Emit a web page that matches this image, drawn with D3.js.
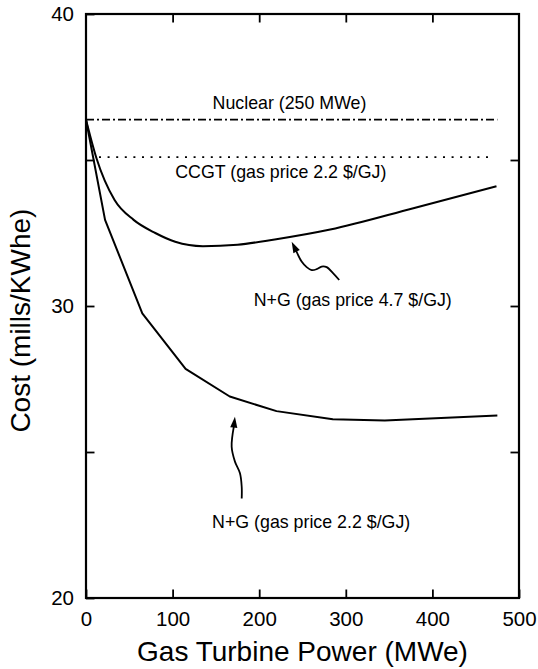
<!DOCTYPE html>
<html>
<head>
<meta charset="utf-8">
<script src="https://cdn.jsdelivr.net/npm/d3@7"></script>
<style>
  html, body { margin: 0; padding: 0; background: #fff; }
  svg { display: block; }
  text { font-family: "Liberation Sans", Arial, Helvetica, sans-serif; fill: #000; }
</style>
</head>
<body>
<svg id="chart" width="538" height="669"></svg>
<script>
// Gas turbine power (MWe) and levelised cost (mills/kWhe)
const powerLowGas = [0, 22, 65, 115, 166, 220, 285, 345, 475];
const costLowGas  = [36.38, 32.95, 29.75, 27.85, 26.9, 26.4, 26.12, 26.08, 26.25];

const powerHighGas = [0, 12, 33, 55, 80, 103, 135, 175, 218, 282, 378, 474];
const costHighGas  = [36.38, 35.07, 33.63, 32.95, 32.5, 32.2, 32.05, 32.1, 32.28, 32.62, 33.35, 34.1];

const nuclearCost = 36.38;
const nuclearPower = [0, 475];
const ccgtCost = 35.1;
const ccgtPower = [15, 470];

const xTickValues = [0, 100, 200, 300, 400, 500];
const yTickValues = [20, 25, 30, 35, 40];
const yLabelValues = [20, 30, 40];

// Annotation arrows (data units), drawn from tip to tail
const arrowHighGasPower = [237.5, 241.3, 249.0, 254.8, 260.6, 266.3, 272.1, 277.9, 285.5, 292.4];
const arrowHighGasCost  = [32.20, 31.98, 31.52, 31.33, 31.23, 31.26, 31.35, 31.33, 31.12, 30.89];
const arrowLowGasPower = [172.0, 169.4, 168.2, 172.0, 177.8, 179.8, 179.8];
const arrowLowGasCost  = [26.21, 25.64, 25.18, 24.67, 24.27, 23.81, 23.41];

const labels = [
  { text: "Nuclear (250 MWe)", power: 235, cost: 36.75 },
  { text: "CCGT (gas price 2.2 $/GJ)", power: 225, cost: 34.38 },
  { text: "N+G (gas price 4.7 $/GJ)", power: 308, cost: 30.0 },
  { text: "N+G (gas price 2.2 $/GJ)", power: 260, cost: 22.4 }
];

const W = 538, H = 669;
const margin = { top: 14, right: 19, bottom: 71, left: 86 };
const svg = d3.select("#chart");

const x = d3.scaleLinear().domain([0, 500]).range([margin.left, W - margin.right]);
const y = d3.scaleLinear().domain([20, 40]).range([H - margin.bottom, margin.top]);

const tickLen = 8.5;
const fmt = d => d;

function styleAxis(g) {
  g.select(".domain").remove();
  g.selectAll(".tick line").attr("stroke", "#000").attr("stroke-width", 1.8);
  g.selectAll(".tick text").attr("font-size", 20.5).attr("fill", "#000")
    .attr("font-family", '"Liberation Sans", Arial, sans-serif');
}

// Bottom axis with labels
svg.append("g")
  .attr("transform", `translate(0,${y(20)})`)
  .call(d3.axisBottom(x).tickValues(xTickValues).tickFormat(fmt).tickSize(-tickLen).tickPadding(13))
  .call(styleAxis);

// Top axis, ticks only
svg.append("g")
  .attr("transform", `translate(0,${y(40)})`)
  .call(d3.axisTop(x).tickValues(xTickValues.slice(1, -1)).tickFormat("").tickSize(-tickLen))
  .call(styleAxis);

// Left axis
svg.append("g")
  .attr("transform", `translate(${x(0)},0)`)
  .call(d3.axisLeft(y).tickValues(yTickValues)
        .tickFormat(d => yLabelValues.includes(d) ? d : "")
        .tickSize(-tickLen).tickPadding(12))
  .call(styleAxis);

// Right axis, ticks only
svg.append("g")
  .attr("transform", `translate(${x(500)},0)`)
  .call(d3.axisRight(y).tickValues(yTickValues.slice(1, -1)).tickFormat("").tickSize(-tickLen))
  .call(styleAxis);

// Plot frame
svg.append("rect")
  .attr("x", x(0)).attr("y", y(40))
  .attr("width", x(500) - x(0)).attr("height", y(20) - y(40))
  .attr("fill", "none").attr("stroke", "#000").attr("stroke-width", 2.2);

// Reference lines
svg.append("line")
  .attr("x1", x(nuclearPower[0])).attr("x2", x(nuclearPower[1]))
  .attr("y1", y(nuclearCost)).attr("y2", y(nuclearCost))
  .attr("stroke", "#000").attr("stroke-width", 1.8)
  .attr("stroke-dasharray", "8,3,2,3");

svg.append("line")
  .attr("x1", x(ccgtPower[0])).attr("x2", x(ccgtPower[1]))
  .attr("y1", y(ccgtCost)).attr("y2", y(ccgtCost))
  .attr("stroke", "#000").attr("stroke-width", 1.8)
  .attr("stroke-dasharray", "2,6.6");

// Cost curves
const lowGasLine = d3.line().x(d => x(d[0])).y(d => y(d[1]));
const highGasLine = d3.line().x(d => x(d[0])).y(d => y(d[1])).curve(d3.curveMonotoneX);

svg.append("path")
  .attr("d", lowGasLine(d3.zip(powerLowGas, costLowGas)))
  .attr("fill", "none").attr("stroke", "#000").attr("stroke-width", 2)
  .attr("stroke-linejoin", "round");

svg.append("path")
  .attr("d", highGasLine(d3.zip(powerHighGas, costHighGas)))
  .attr("fill", "none").attr("stroke", "#000").attr("stroke-width", 2)
  .attr("stroke-linejoin", "round");

// Wavy annotation arrows with filled heads
function drawArrow(powers, costs) {
  const pts = d3.zip(powers, costs).map(d => [x(d[0]), y(d[1])]);
  const tip = pts[0];
  const next = pts[2];
  const ang = Math.atan2(next[1] - tip[1], next[0] - tip[0]);
  const len = 11, half = 3.6;
  const bx = tip[0] + len * Math.cos(ang), by = tip[1] + len * Math.sin(ang);
  const px = -Math.sin(ang), py = Math.cos(ang);
  const body = [[bx - 1.5 * Math.cos(ang), by - 1.5 * Math.sin(ang)]].concat(pts.slice(2));
  svg.append("path")
    .attr("d", d3.line().curve(d3.curveCatmullRom)(body))
    .attr("fill", "none").attr("stroke", "#000").attr("stroke-width", 1.8);
  svg.append("path")
    .attr("d", `M${tip[0]},${tip[1]}L${bx + half * px},${by + half * py}` +
               `L${bx},${by}L${bx - half * px},${by - half * py}Z`)
    .attr("fill", "#000");
}
drawArrow(arrowHighGasPower, arrowHighGasCost);
drawArrow(arrowLowGasPower, arrowLowGasCost);

// Series labels
svg.selectAll(".series-label")
  .data(labels).enter().append("text")
  .attr("class", "series-label")
  .attr("x", d => x(d.power)).attr("y", d => y(d.cost))
  .attr("text-anchor", "middle").attr("font-size", 17.8)
  .text(d => d.text);

// Axis titles
svg.append("text")
  .attr("x", (x(0) + x(500)) / 2).attr("y", 661)
  .attr("text-anchor", "middle").attr("font-size", 28)
  .text("Gas Turbine Power (MWe)");

svg.append("text")
  .attr("transform", `translate(30,${y(29.5)}) rotate(-90)`)
  .attr("text-anchor", "middle").attr("font-size", 28)
  .text("Cost (mills/KWhe)");
</script>
</body>
</html>
